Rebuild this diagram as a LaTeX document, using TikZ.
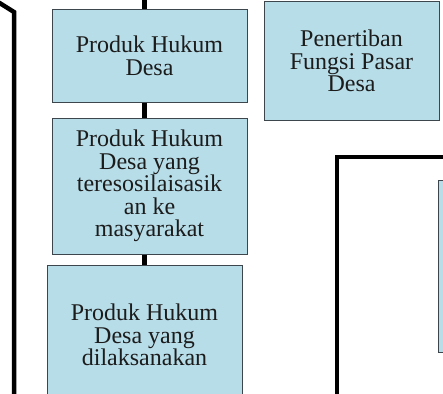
\documentclass[tikz,border=0pt]{standalone}
\usepackage{fontspec}
\setmainfont{Liberation Serif}
\definecolor{boxfill}{HTML}{B7DDE8}
\definecolor{boxline}{HTML}{3C464C}
\definecolor{txt}{HTML}{1C1C1C}
\begin{document}
\begin{tikzpicture}[x=1pt,y=-1pt,
  box/.style={draw=boxline,line width=1pt,fill=boxfill,text=txt,align=center,inner sep=0pt,
    font=\fontsize{24}{22.5}\selectfont},
  conn/.style={line width=4.5pt,black},
  frame/.style={line width=4.5pt,black,line join=miter}]
\useasboundingbox (0,0) rectangle (443,393);
\clip (0,0) rectangle (443,393);
% left frame line
\coordinate (l0) at (-2,2);
\coordinate (l1) at (14,12);
\coordinate (l2) at (14,400);
\draw[frame] (l0) -- (l1) -- (l2);
% top connector
\coordinate (t0) at (144.5,-5);
% boxes
\node[box,minimum width=195,minimum height=92] (b1) at (149.5,56) {Produk Hukum\\Desa};
\node[box,minimum width=195,minimum height=136] (b2) at (149.5,186) {Produk Hukum\\Desa yang\\teresosilaisasik\\an ke\\masyarakat};
\node[box,minimum width=195,minimum height=140] (b3) at (144.5,335) {Produk Hukum\\Desa yang\\dilaksanakan};
\node[box,minimum width=175,minimum height=118] (b4) at (351.5,61) {Penertiban\\Fungsi Pasar\\Desa};
% connectors
\draw[conn] (t0) -- (b1.north -| t0);
\draw[conn] (b1.south -| t0) -- (b2.north -| t0);
\draw[conn] (b2.south -| t0) -- (b3.north -| t0);
% right frame
\coordinate (r0) at (450,157);
\coordinate (r1) at (337,157);
\coordinate (r2) at (337,400);
\draw[frame] (r0) -- (r1) -- (r2);
% inner right box (cut off)
\node[box,minimum width=30,minimum height=172,anchor=north west] (b5) at (438,180) {};
\end{tikzpicture}
\end{document}
